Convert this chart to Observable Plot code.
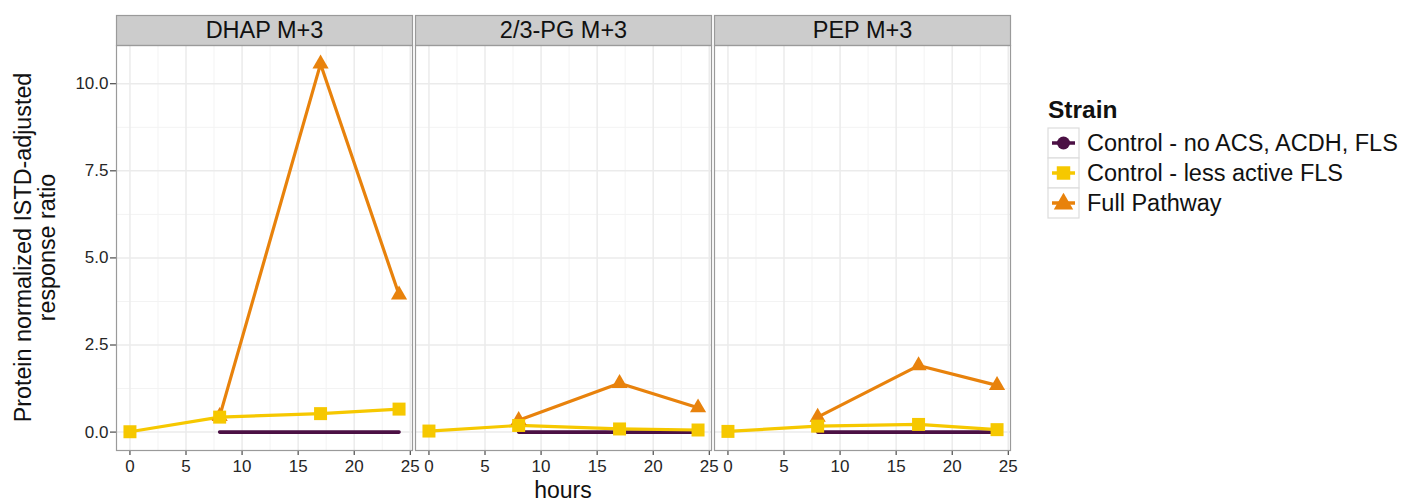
<!DOCTYPE html>
<html>
<head>
<meta charset="utf-8">
<script src="https://cdn.jsdelivr.net/npm/d3@7"></script>
<script src="https://cdn.jsdelivr.net/npm/@observablehq/plot@0.6"></script>
<style>
  body { margin: 0; background: #fff; }
  #chart svg { display: block; }
</style>
</head>
<body>
<div id="chart"></div>
<script>
// Metabolite panels and strains
const panels = ["DHAP M+3", "2/3-PG M+3", "PEP M+3"];
const strains = ["Control - no ACS, ACDH, FLS", "Control - less active FLS", "Full Pathway"];
const strainColors = ["#4B1044", "#F6C800", "#E8820C"];

// Sampling times (hours) per strain
const hoursNoACS = [8, 17, 24];
const hoursLessFLS = [0, 8, 17, 24];
const hoursFull = [8, 17, 24];

// Protein-normalized ISTD-adjusted response ratios, one row per panel
const valuesNoACS = [[0, 0, 0], [0, 0, 0], [0, 0, 0]];
const valuesLessFLS = [[0.01, 0.43, 0.53, 0.66], [0.03, 0.19, 0.09, 0.06], [0.02, 0.17, 0.22, 0.07]];
const valuesFull = [[0.45, 10.57, 3.94], [0.34, 1.40, 0.70], [0.43, 1.91, 1.34]];

// Axis ticks and grid
const xTicks = [0, 5, 10, 15, 20, 25];
const xMinor = [2.5, 7.5, 12.5, 17.5, 22.5];
const yTicks = [0, 2.5, 5, 7.5, 10];
const yMinor = [1.25, 3.75, 6.25, 8.75];

function rowsFor(strainIndex, hours, values) {
  const out = [];
  panels.forEach((panel, p) => {
    hours.forEach((h, i) => out.push({panel, strain: strains[strainIndex], hour: h, value: values[p][i]}));
  });
  return out;
}
const series = [
  rowsFor(0, hoursNoACS, valuesNoACS),
  rowsFor(1, hoursLessFLS, valuesLessFLS),
  rowsFor(2, hoursFull, valuesFull)
];
const allRows = series.flat();

// 5% expansion on both scales
const xExt = d3.extent(allRows, d => d.hour);
const yExt = d3.extent(allRows, d => d.value);
const xPad = (xExt[1] - xExt[0]) * 0.05;
const yPad = (yExt[1] - yExt[0]) * 0.05;

const W = 1402, H = 502;
const mTop = 45, mBottom = 52, mLeft = 116, mRight = 392;
const panelH = H - mTop - mBottom;

const marks = [
  Plot.frame({fill: "#ffffff"}),
  Plot.ruleX(xMinor, {stroke: "#f3f3f3", strokeWidth: 1}),
  Plot.ruleY(yMinor, {stroke: "#f3f3f3", strokeWidth: 1}),
  Plot.ruleX(xTicks, {stroke: "#ebebeb", strokeWidth: 1.5}),
  Plot.ruleY(yTicks, {stroke: "#ebebeb", strokeWidth: 1.5}),
  // strip backgrounds above each panel
  Plot.frame({fill: "#cccccc", stroke: "#9a9a9a", strokeWidth: 1.2, insetTop: -30, insetBottom: panelH}),
  Plot.text(panels, {fx: d => d, text: d => d, frameAnchor: "top", lineAnchor: "middle", dy: -15, fontSize: 23.5, fill: "#111"})
];
// lines first, then points (the first strain is drawn as a line only)
[0, 1, 2].forEach(s => {
  marks.push(Plot.line(series[s], {fx: "panel", x: "hour", y: "value", stroke: strainColors[s], strokeWidth: s === 0 ? 3.6 : 3.2}));
});
marks.push(Plot.dot(series[2], {fx: "panel", x: "hour", y: "value", fill: strainColors[2], symbol: "triangle", r: 6.0, stroke: "none"}));
marks.push(Plot.dot(series[1], {fx: "panel", x: "hour", y: "value", fill: strainColors[1], symbol: "square", r: 7.33, stroke: "none"}));
marks.push(Plot.frame({stroke: "#9a9a9a", strokeWidth: 1.2}));

const chart = Plot.plot({
  width: W,
  height: H,
  marginTop: mTop,
  marginBottom: mBottom,
  marginLeft: mLeft,
  marginRight: mRight,
  style: {fontFamily: "'Liberation Sans', Arial, sans-serif", fontSize: "17px", color: "#262626", background: "#fff"},
  fx: {domain: panels, axis: null, paddingInner: 0.01003, paddingOuter: 0, round: false, label: null},
  x: {domain: [xExt[0] - xPad, xExt[1] + xPad], ticks: xTicks, tickSize: 5, tickPadding: 4, label: null},
  y: {domain: [yExt[0] - yPad, yExt[1] + yPad], ticks: yTicks, tickFormat: d3.format(".1f"), tickSize: 6, tickPadding: 2, label: null},
  marks
});
document.getElementById("chart").appendChild(chart);

const svg = d3.select(chart);
const font = "'Liberation Sans', Arial, sans-serif";

// y-axis title on two lines
const yTitle = svg.append("text")
  .attr("transform", `translate(0,${mTop + panelH / 2}) rotate(-90)`)
  .attr("text-anchor", "middle")
  .attr("font-family", font)
  .attr("font-size", 23.3)
  .attr("fill", "#111");
yTitle.append("tspan").attr("x", 0).attr("y", 31).text("Protein normalized ISTD-adjusted");
yTitle.append("tspan").attr("x", 0).attr("y", 55).text("response ratio");

// x-axis title
svg.append("text")
  .attr("x", mLeft + (W - mLeft - mRight) / 2)
  .attr("y", 498)
  .attr("text-anchor", "middle")
  .attr("font-family", font)
  .attr("font-size", 23)
  .attr("fill", "#111")
  .text("hours");

// legend
const lg = svg.append("g").attr("transform", "translate(1048,0)")
  .attr("font-family", font).attr("text-anchor", "start");
lg.append("text").attr("x", 0).attr("y", 118).attr("font-size", 24.5).attr("font-weight", "bold").attr("fill", "#111").text("Strain");
const keyW = 31, keyH = 30, keyTop = 128;
strains.forEach((s, i) => {
  const y0 = keyTop + i * keyH;
  const cy = y0 + keyH / 2;
  lg.append("rect").attr("x", 0).attr("y", y0).attr("width", keyW).attr("height", keyH)
    .attr("fill", "#fff").attr("stroke", "#dcdcdc").attr("stroke-width", 1.2);
  lg.append("line").attr("x1", 4).attr("x2", keyW - 4).attr("y1", cy).attr("y2", cy)
    .attr("stroke", strainColors[i]).attr("stroke-width", 3.5);
  const sym = [d3.symbolCircle, d3.symbolSquare, d3.symbolTriangle][i];
  const size = Math.PI * Math.pow([6.5, 7.6, 7.2][i], 2);
  lg.append("path").attr("transform", `translate(${keyW / 2},${cy + (i === 2 ? 1 : 0)})`)
    .attr("d", d3.symbol(sym, size)()).attr("fill", strainColors[i]);
  lg.append("text").attr("x", 39).attr("y", cy).attr("dy", "0.35em").attr("font-size", 23.5)
    .attr("fill", "#111").text(s);
});
</script>
</body>
</html>
